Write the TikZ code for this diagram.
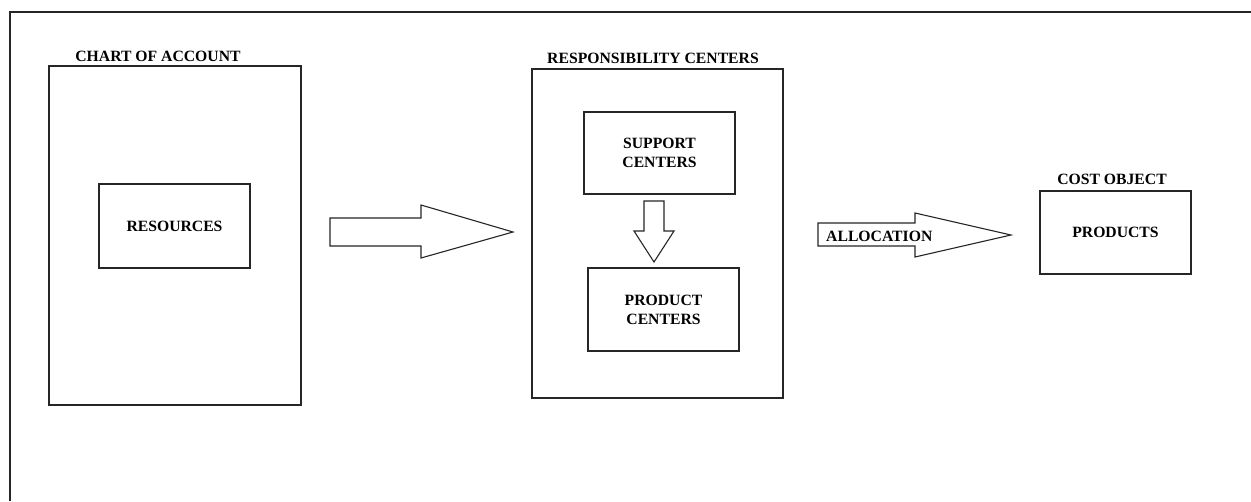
\documentclass[tikz,border=0pt]{standalone}
\usepackage{fontspec}
\setmainfont{Liberation Serif}
\begin{document}
\begin{tikzpicture}[x=1pt,y=-1pt,
  line/.style={draw=black!85,line width=1.1pt},
  box/.style={line,rectangle,inner sep=0pt,align=center,
    font=\fontsize{15.7}{19}\selectfont\bfseries},
  caption/.style={inner sep=0pt,anchor=base,
    font=\fontsize{15.7}{19}\selectfont\bfseries},
  blockarrow/.style={line,fill=white,line join=miter}]
  \useasboundingbox (0,0) rectangle (1251,501);
  \fill[white] (0,0) rectangle (1251,501);

  % frame
  \draw[line] (10,501) -- (10,12) -- (1251,12);

  % chart of account
  \node[box,minimum width=252pt,minimum height=339pt] (chart) at (175,235.5) {};
  \node[caption] (chartlbl) at (158,61) {CHART OF ACCOUNT};
  \node[box,minimum width=151pt,minimum height=84pt] (res) at (174.5,226) {RESOURCES};

  % responsibility centers
  \node[box,minimum width=251pt,minimum height=329pt] (resp) at (657.5,233.5) {};
  \node[caption] (resplbl) at (653,63) {RESPONSIBILITY CENTERS};
  \node[box,minimum width=151pt,minimum height=82pt] (sup) at (659.5,153) {SUPPORT\\CENTERS};
  \node[box,minimum width=151pt,minimum height=83pt] (prodc) at (663.5,309.5) {PRODUCT\\CENTERS};

  % cost object
  \node[box,minimum width=151pt,minimum height=83pt] (prod) at (1115.5,232.5) {PRODUCTS};
  \node[caption] (costlbl) at (1112,184) {COST OBJECT};

  % block arrows
  \draw[blockarrow] (330,218) -- (421,218) -- (421,205) -- (513,232)
    -- (421,258) -- (421,246) -- (330,246) -- cycle;
  \draw[blockarrow] (644,201) -- (664,201) -- (664,231) -- (674,231)
    -- (654,262) -- (634,231) -- (644,231) -- cycle;
  \draw[blockarrow] (818,223) -- (915,223) -- (915,213) -- (1011,235)
    -- (915,257) -- (915,246) -- (818,246) -- cycle;
  \node[caption,anchor=base west] (alloc) at (826,241) {ALLOCATION};
\end{tikzpicture}
\end{document}
